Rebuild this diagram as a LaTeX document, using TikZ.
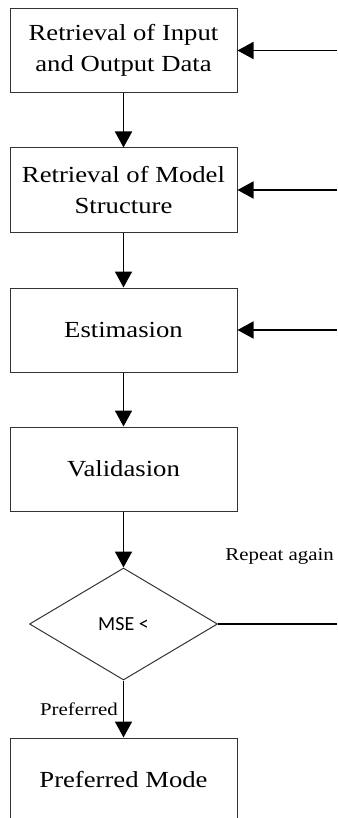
\documentclass[tikz,border=0pt]{standalone}
\usepackage{fontspec}
\setmainfont[FakeStretch=1.16]{Liberation Serif}
\newfontfamily\calibri{Carlito}
\usepackage{tikz}
\usetikzlibrary{shapes,positioning,calc}
\usetikzlibrary{shapes.geometric}
\usetikzlibrary{arrows.meta}
\tikzstyle{langkah} = [rectangle, minimum width=227pt, minimum height=84pt, text centered, align=center, draw=black!80, line width=1pt, font=\fontsize{23}{31}\selectfont]
\tikzstyle{keputusan} = [diamond, minimum width=188pt, minimum height=112pt, inner sep=0pt, text centered, draw=black!80, line width=1pt, font=\calibri\fontsize{20}{24}\selectfont]
\tikzstyle{arrow} = [line width=1.8pt,-{Triangle[length=16pt,width=17pt]}]
\tikzstyle{label} = [inner sep=0pt, font=\fontsize{18}{22}\selectfont]

\begin{document}
\begin{tikzpicture}[x=1pt,y=-1pt]
				\clip (0,0) rectangle (337,818);
				\node (ambil) at (123.5,50.5) [langkah] {Retrieval of Input\\and Output Data};
				\node (model) at (123.5,190) [langkah] {Retrieval of Model\\Structure};
				\node (est) at (123.5,330) [langkah] {Estimasion};
				\node (val) at (123.5,469) [langkah] {Validasion};
				\node (mse) at (123.5,624) [keputusan] {MSE <};
				\node (mode) at (123.5,780) [langkah] {Preferred Mode};
				\draw[arrow] (ambil) -- (model);
				\draw[arrow] (model) -- (est);
				\draw[arrow] (est) -- (val);
				\draw[arrow] (val) -- (mse);
				\draw[arrow] (mse) -- (mode);
				\coordinate (m1) at (337,50.5);
				\coordinate (m2) at (337,190);
				\coordinate (m3) at (337,330);
				\coordinate (ulang) at (337,624);
				\draw[arrow] (m1) -- (ambil);
				\draw[arrow] (m2) -- (model);
				\draw[arrow] (m3) -- (est);
				\draw[line width=1.8pt] (mse) -- (ulang);
				\node[label, anchor=base east] (lagi) at (334,560) {Repeat again};
				\node[label, anchor=base east] (pilih) at (118,715) {Preferred};
				\end{tikzpicture}
\end{document}
